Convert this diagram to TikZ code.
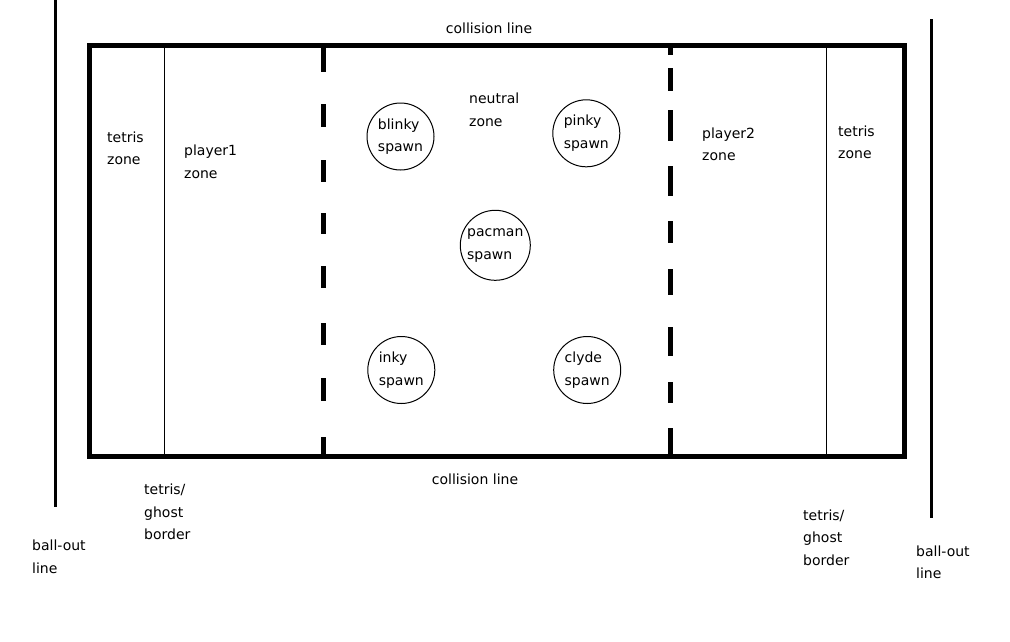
\documentclass[tikz,border=0pt]{standalone}
\usepackage{fontspec}
\setmainfont{DejaVu Sans}
\begin{document}
\begin{tikzpicture}[x=1pt,y=-1pt,
  lbl/.style={anchor=west,align=left,inner sep=0pt,font=\fontsize{14}{22.5}\selectfont},
  ctr/.style={anchor=center,inner sep=0pt,font=\fontsize{14}{22.5}\selectfont},
  spawnc/.style={circle,draw,line width=1pt,inner sep=0pt,minimum size=67pt,align=left,font=\fontsize{14}{22.5}\selectfont},
  thick border/.style={line width=5pt},
  dashseg/.style={line width=5pt},
  ballout/.style={line width=3pt},
  thinline/.style={line width=1pt}]
\useasboundingbox (0,0) rectangle (1010,641);
% field
\coordinate (tl) at (89.5,45.5);
\coordinate (br) at (904,456.5);
\draw[thick border] (tl) rectangle (br);
% tetris/ghost borders
\coordinate (tgL1) at (164.5,45.5); \coordinate (tgL2) at (164.5,456.5);
\coordinate (tgR1) at (826.5,45.5); \coordinate (tgR2) at (826.5,456.5);
\draw[thinline] (tgL1) -- (tgL2);
\draw[thinline] (tgR1) -- (tgR2);
% ball-out lines
\coordinate (boL1) at (55.5,0); \coordinate (boL2) at (55.5,507);
\coordinate (boR1) at (931.5,19); \coordinate (boR2) at (931.5,518);
\draw[ballout] (boL1) -- (boL2);
\draw[ballout] (boR1) -- (boR2);
% left dashed line
\foreach \a/\b in {45/72,104/127,160/182,213/234,266/288,323/345,378/401,437/456}
  \draw[dashseg] (323,\a) -- (323,\b);
% right dashed line
\foreach \a/\b in {45/55,68/91,110/141,166/196,221/243,269/295,327/356,382/403,428/456}
  \draw[dashseg] (670,\a) -- (670,\b);
% spawns
\node[spawnc] (blinky) at (400.5,136.5) {blinky\\spawn};
\node[spawnc] (pinky) at (586.3,133.3) {pinky\\spawn};
\node[spawnc,minimum size=70pt] (pacman) at (495.3,245.3) {pacman\\spawn};
\node[spawnc] (inky) at (401.3,370) {inky\\spawn};
\node[spawnc] (clyde) at (587.2,370) {clyde\\spawn};
% labels
\node[ctr] (coltop) at (489,28) {collision line};
\node[ctr] (colbot) at (475,479) {collision line};
\node[lbl] (tzL) at (107,148.5) {tetris\\zone};
\node[lbl] (p1) at (184,162) {player1\\zone};
\node[lbl] (neutral) at (469,110) {neutral\\zone};
\node[lbl] (p2) at (702,144.5) {player2\\zone};
\node[lbl] (tzR) at (838,142.5) {tetris\\zone};
\node[lbl] (tgbL) at (144,512) {tetris/\\ghost\\border};
\node[lbl] (tgbR) at (803,537.5) {tetris/\\ghost\\border};
\node[lbl] (boLl) at (32,557) {ball-out\\line};
\node[lbl] (boRl) at (916,562.5) {ball-out\\line};
\end{tikzpicture}
\end{document}
